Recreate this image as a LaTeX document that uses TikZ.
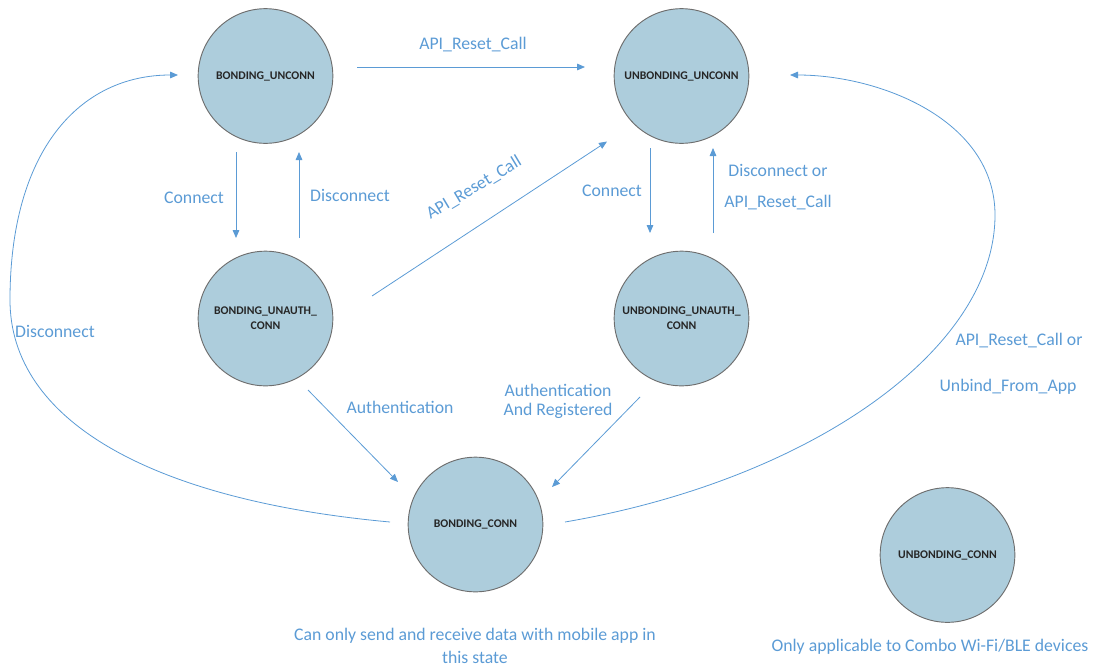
\documentclass[tikz,border=0pt]{standalone}
\usepackage{fontspec}
\setmainfont{Carlito}
\usetikzlibrary{arrows.meta,calc}
\definecolor{statefill}{HTML}{ADCDDC}
\definecolor{stateedge}{HTML}{6E6E6E}
\definecolor{flow}{HTML}{5B9BD5}
\tikzset{
  state/.style={circle,draw=stateedge,line width=0.7pt,fill=statefill,minimum size=101pt,inner sep=0pt,
    align=center,font=\fontsize{8.8}{11}\selectfont\bfseries,text=black!85},
  flowline/.style={draw=flow,line width=0.6pt,-{Triangle[length=6pt,width=5pt]}},
  lbl/.style={inner sep=0pt,text=flow,font=\fontsize{13.3}{16}\selectfont},
}
\begin{document}
\begin{tikzpicture}[x=0.75pt,y=-0.75pt]
\useasboundingbox (0,0) rectangle (1099,668);

% states
\node[state] (bu) at (265.5,76) {BONDING\_UNCONN};
\node[state] (uu) at (681.5,76) {UNBONDING\_UNCONN};
\node[state] (ba) at (265.5,318.5) {BONDING\_UNAUTH\_\\CONN};
\node[state] (ua) at (681.5,318.5) {UNBONDING\_UNAUTH\_\\CONN};
\node[state] (bc) at (475.5,524.5) {BONDING\_CONN};
\node[state] (uc) at (947.5,555) {UNBONDING\_CONN};

% transitions
\draw[flowline] ($(bu.center)+(91.5,-9)$) -- ($(uu.center)+(-96.5,-9)$);
\draw[flowline] ($(bu.center)+(-29.5,76)$) -- ($(ba.center)+(-29.5,-80.5)$);
\draw[flowline] ($(ba.center)+(33.5,-80.5)$) -- ($(bu.center)+(33.5,76)$);
\draw[flowline] ($(ba.center)+(106.5,-22.5)$) -- ($(uu.center)+(-74.5,65.5)$);
\draw[flowline] ($(uu.center)+(-31.5,72)$) -- ($(ua.center)+(-31.5,-85.5)$);
\draw[flowline] ($(ua.center)+(31.5,-85.5)$) -- ($(uu.center)+(31.5,72)$);
\draw[flowline] ($(ba.center)+(42.5,71.5)$) -- ($(bc.center)+(-77.5,-42.5)$);
\draw[flowline] ($(ua.center)+(-41.5,78.5)$) -- ($(bc.center)+(76.5,-37.5)$);
\draw[flowline] ($(bc.center)+(-85.5,-2.5)$) .. controls (150,500) and (10,420) .. (10,300)
  .. controls (10,150) and (80,75) .. ($(bu.center)+(-87.5,-1)$);
\draw[flowline] ($(bc.center)+(89.5,-2.5)$) .. controls (810,480) and (995,350) .. (995,215)
  .. controls (995,120) and (880,75) .. ($(uu.center)+(108.5,-1)$);

% transition labels
\node[lbl] (l1) at (473,45) {API\_Reset\_Call};
\node[lbl] (l2) at (194,198) {Connect};
\node[lbl] (l3) at (350,195) {Disconnect};
\node[lbl,rotate=31] (l4) at (474,188) {API\_Reset\_Call};
\node[lbl] (l5) at (612,191) {Connect};
\node[lbl] (l6) at (778,170) {Disconnect or};
\node[lbl] (l7) at (778,203) {API\_Reset\_Call};
\node[lbl] (l8) at (400,407) {Authentication};
\node[lbl] (l9) at (558,390) {Authentication};
\node[lbl] (l10) at (558,411) {And Registered};
\node[lbl] (l11) at (55,331) {Disconnect};
\node[lbl] (l12) at (1019,341) {API\_Reset\_Call or};
\node[lbl] (l13) at (1008,387) {Unbind\_From\_App};

% notes
\node[lbl] (n1) at (475,636) {Can only send and receive data with mobile app in};
\node[lbl] (n2) at (475,657) {this state};
\node[lbl] (n3) at (930,647) {Only applicable to Combo Wi-Fi/BLE devices};
\end{tikzpicture}
\end{document}
